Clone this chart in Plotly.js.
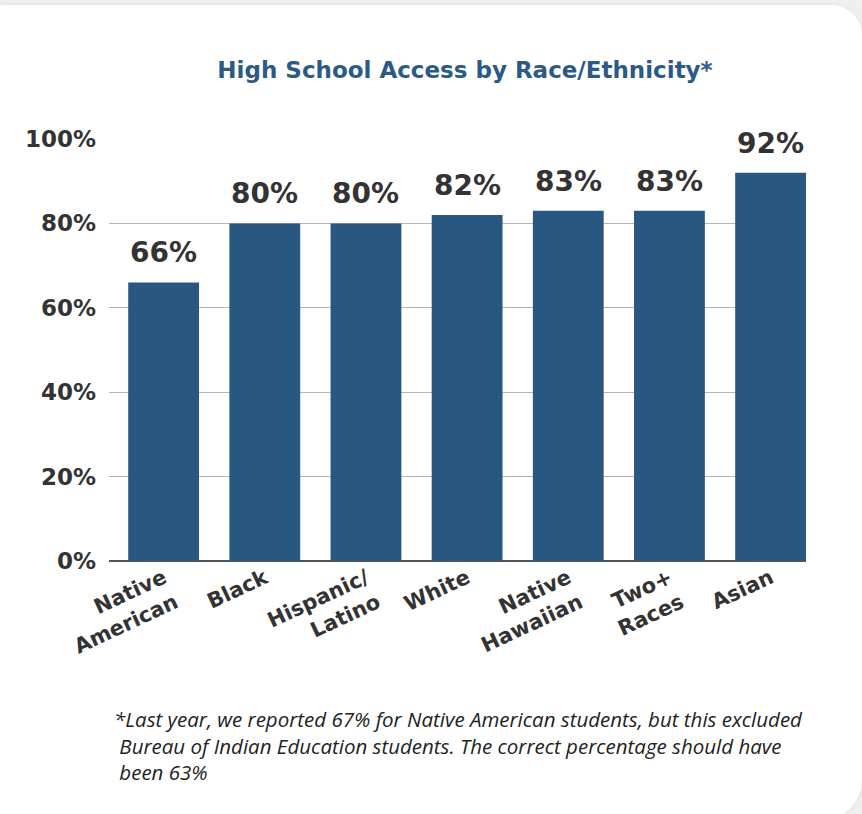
<!DOCTYPE html>
<html>
<head>
<meta charset="utf-8">
<script src="https://cdn.plot.ly/plotly-3.0.1.min.js"></script>
<style>
  html, body { margin: 0; padding: 0; width: 862px; height: 814px; overflow: hidden; background: #efefef; }
  #card { position: absolute; left: -10px; top: 5px; width: 872px; height: 815px; background: #ffffff;
          border-radius: 12px 30px 40px 0; box-shadow: 0 0 4px rgba(0,0,0,0.06); }
  #chart { position: absolute; left: 0; top: 0; width: 862px; height: 814px; }
</style>
</head>
<body>
<div id="card"></div>
<div id="chart"></div>
<script>
const categories = ["Native<br>American", "Black", "Hispanic/<br>Latino", "White", "Native<br>Hawaiian", "Two+<br>Races", "Asian"];
const values = [66, 80, 80, 82, 83, 83, 92];
const yTickVals = [0, 20, 40, 60, 80, 100];
const yTickText = ["0%", "20%", "40%", "60%", "80%", "100%"];
const titleText = "High School Access by Race/Ethnicity*";
const footnote = "*Last year, we reported 67% for Native American students, but this excluded<br>&nbsp;Bureau of Indian Education students. The correct percentage should have<br>&nbsp;been 63%";

const barColor = "#285882";
const xIdx = categories.map((c, i) => i);

const trace = {
  type: "bar",
  x: xIdx,
  y: values,
  marker: { color: barColor },
  hoverinfo: "skip"
};

const valueAnnotations = values.map((v, i) => ({
  x: xIdx[i], y: v, xref: "x", yref: "y",
  text: v + "%", showarrow: false,
  yanchor: "bottom", yshift: 11,
  font: { family: "DejaVu Sans", size: 28, color: "#333333", weight: "bold" }
}));

const layout = {
  width: 862, height: 814,
  paper_bgcolor: "rgba(0,0,0,0)",
  plot_bgcolor: "rgba(0,0,0,0)",
  margin: { l: 109, r: 56, t: 139, b: 253 },
  bargap: 0.3,
  showlegend: false,
  title: {
    text: titleText,
    font: { family: "DejaVu Sans", size: 23, color: "#2b5a87", weight: "bold" },
    x: 465 / 862, xref: "container", xanchor: "center",
    y: 1 - 70 / 814, yref: "container", yanchor: "middle"
  },
  xaxis: {
    range: [-0.54, 6.35],
    tickmode: "array",
    tickvals: xIdx,
    ticktext: categories,
    tickangle: -25,
    tickfont: { family: "DejaVu Sans", size: 21, color: "#333333", weight: "bold" },
    showgrid: false, zeroline: false, showline: false, ticks: ""
  },
  yaxis: {
    range: [0, 100],
    tickmode: "array",
    tickvals: yTickVals,
    ticktext: yTickText,
    tickfont: { family: "DejaVu Sans", size: 23, color: "#333333", weight: "bold" },
    ticklabelstandoff: 12,
    showgrid: true, gridcolor: "#b5b5b5", gridwidth: 1,
    zeroline: true, zerolinecolor: "#555555", zerolinewidth: 1.5,
    showline: false, ticks: ""
  },
  annotations: valueAnnotations.concat([{
    xref: "paper", yref: "paper",
    x: (112 - 109) / 697, y: -(703 - 561) / 422,
    xanchor: "left", yanchor: "top", align: "left",
    text: footnote, showarrow: false,
    font: { family: "Open Sans", size: 20.5, color: "#222222", style: "italic" }
  }])
};

Plotly.newPlot("chart", [trace], layout, { displayModeBar: false, staticPlot: true });
</script>
</body>
</html>
